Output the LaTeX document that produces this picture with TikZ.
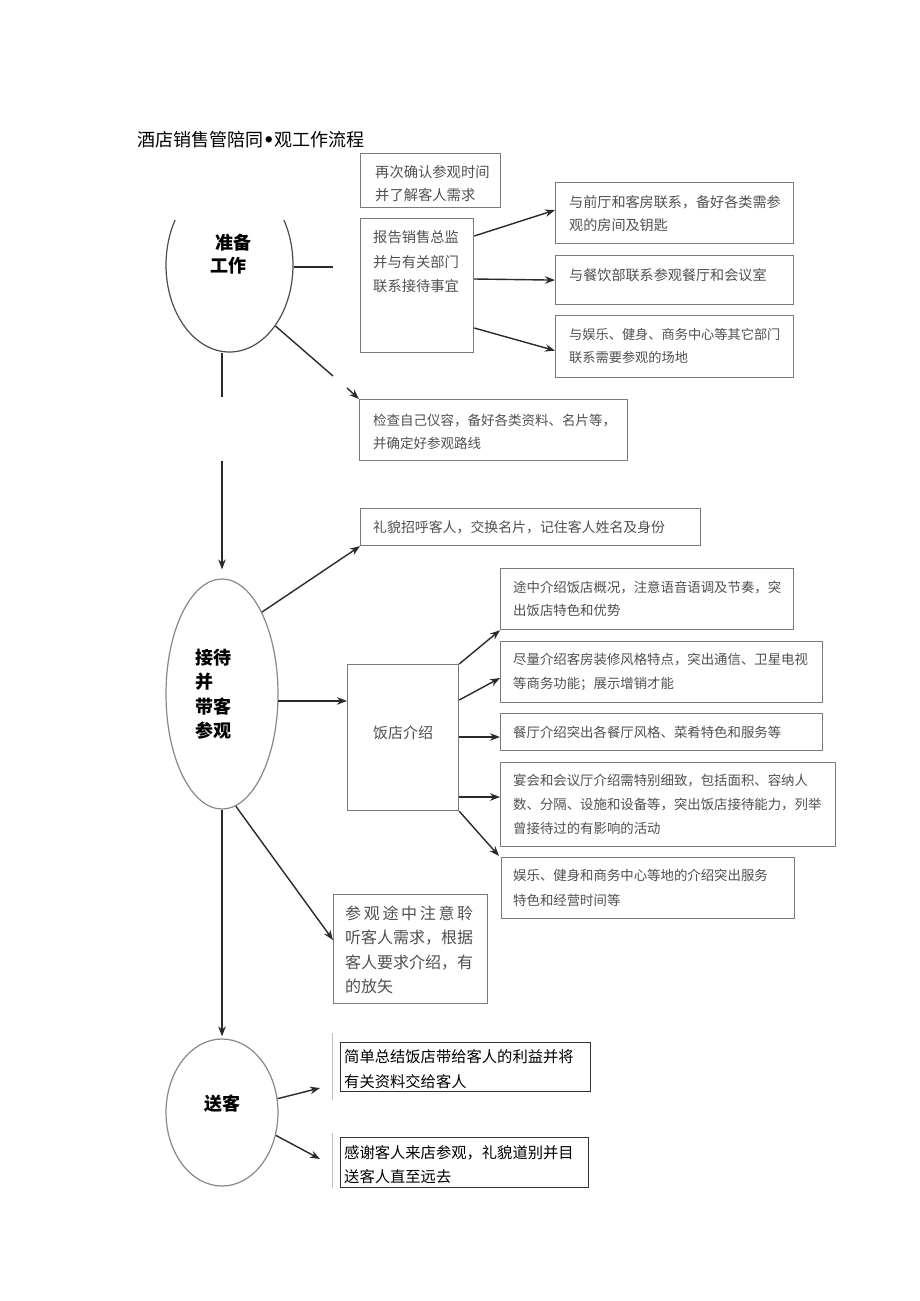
\documentclass[tikz,border=0pt]{standalone}
\usepackage{fontspec}
\setmainfont{Noto Sans CJK SC}
\newfontfamily\bulletfont{DejaVu Sans}
\usetikzlibrary{arrows.meta,calc,shapes.geometric}
\definecolor{boxgray}{HTML}{7A7A7A}
\definecolor{txtgray}{HTML}{505050}
\definecolor{linedark}{HTML}{2A2A2A}
\definecolor{ellgray}{HTML}{888888}
\tikzset{
  box/.style={draw=boxgray, line width=1.2pt, inner sep=0pt, anchor=north west},
  darkbox/.style={draw=black!80, line width=1.2pt, inner sep=0pt, anchor=north west},
  txt/.style={inner sep=0pt, anchor=north west, align=left, text=txtgray},
  blacktxt/.style={inner sep=0pt, anchor=north west, align=left, text=black},
  ell/.style={ellipse, draw=ellgray, line width=1.2pt, inner sep=0pt},
  conn/.style={draw=linedark, line width=1.4pt},
  arr/.style={conn, -{Stealth[length=10pt,width=7.5pt]}},
  lbl/.style={inner sep=0pt, anchor=north west, align=left, font=\bfseries\fontsize{18}{24.5}\selectfont}
}
\begin{document}
\begin{tikzpicture}[x=1pt,y=-1pt]
\useasboundingbox[fill=white] (0,0) rectangle (920,1301);

% title
\node[blacktxt, font=\fontsize{18}{22}\selectfont] (title) at (137,131.5) {酒店销售管陪同{\bulletfont\bfseries •}观工作流程};

% ellipses
\begin{scope}
\clip (100,220) rectangle (400,1301);
\node[ell, draw=black!70, minimum width=127pt, minimum height=174pt] (e1) at (229.5,265) {};
\end{scope}
\node[ell, minimum width=112pt, minimum height=230pt] (e2) at (222,694) {};
\node[ell, minimum width=112pt, minimum height=147pt] (e3) at (222,1112.5) {};

\node[lbl] (e1t) at (210,233.5) {\hspace*{5pt}准备\\[-1.5pt]工作};
\node[lbl] (e2t) at (195,648.5) {接待\\并\\带客\\参观};
\node[inner sep=0pt, font=\bfseries\fontsize{18}{22}\selectfont] (e3t) at (222,1104) {送客};

% boxes
\node[box, minimum width=140pt, minimum height=54pt] (B1) at (360,153) {};
\node[box, minimum width=113pt, minimum height=134pt] (B2) at (360,218) {};
\node[box, minimum width=238pt, minimum height=61pt] (BA) at (555,182) {};
\node[box, minimum width=238pt, minimum height=49pt] (BB) at (555,255) {};
\node[box, minimum width=238pt, minimum height=62pt] (BC) at (555,315) {};
\node[box, minimum width=268pt, minimum height=61pt] (BD) at (359,399) {};
\node[box, minimum width=340pt, minimum height=37pt] (BE) at (360,508) {};
\node[box, minimum width=111pt, minimum height=146pt] (BF) at (347,664) {};
\node[box, minimum width=293pt, minimum height=61pt] (G1) at (500,568) {};
\node[box, minimum width=322pt, minimum height=61pt] (G2) at (500,641) {};
\node[box, minimum width=322pt, minimum height=37pt] (G3) at (500,713) {};
\node[box, minimum width=335pt, minimum height=84pt] (G4) at (500,762) {};
\node[box, minimum width=293pt, minimum height=61pt] (G5) at (501,857) {};
\node[box, minimum width=154pt, minimum height=109pt] (H) at (333,894) {};
\node[darkbox, minimum width=250pt, minimum height=49pt] (I) at (340,1042) {};
\node[darkbox, minimum width=248pt, minimum height=50pt] (J) at (340,1137) {};

% texts
\node[txt, font=\fontsize{14.3}{23}\selectfont] (t1) at (375,165.3) {再次确认参观时间\\并了解客人需求};
\node[txt, font=\fontsize{14.3}{24.5}\selectfont] (t2) at (373,230.3) {报告销售总监\\并与有关部门\\联系接待事宜};
\node[txt, font=\fontsize{14.1}{23}\selectfont] (tA) at (569,195.3) {与前厅和客房联系，备好各类需参\\观的房间及钥匙};
\node[txt, font=\fontsize{14.1}{23}\selectfont] (tB) at (569,268.3) {与餐饮部联系参观餐厅和会议室};
\node[txt, font=\fontsize{13.2}{23}\selectfont] (tC) at (569,328.5) {与娱乐、健身、商务中心等其它部门\\联系需要参观的场地};
\node[txt, font=\fontsize{13.5}{23}\selectfont] (tD) at (373,413.5) {检查自己仪容，备好各类资料、名片等，\\并确定好参观路线};
\node[txt, font=\fontsize{13.9}{23}\selectfont] (tE) at (373,520.3) {礼貌招呼客人，交换名片，记住客人姓名及身份};
\node[inner sep=0pt, text=txtgray, font=\fontsize{15}{20}\selectfont] (tF) at (403,733) {饭店介绍};
\node[txt, font=\fontsize{13.4}{23.5}\selectfont] (tG1) at (513,580.5) {途中介绍饭店概况，注意语音语调及节奏，突\\出饭店特色和优势};
\node[txt, font=\fontsize{13.4}{24}\selectfont] (tG2) at (513,652.5) {尽量介绍客房装修风格特点，突出通信、卫星电视\\等商务功能；展示增销才能};
\node[txt, font=\fontsize{13.4}{24}\selectfont] (tG3) at (513,725.5) {餐厅介绍突出各餐厅风格、菜肴特色和服务等};
\node[txt, font=\fontsize{13.4}{24}\selectfont] (tG4) at (513,773.5) {宴会和会议厅介绍需特别细致，包括面积、容纳人\\数、分隔、设施和设备等，突出饭店接待能力，列举\\曾接待过的有影响的活动};
\node[txt, font=\fontsize{13.4}{25}\selectfont] (tG5) at (513,868.5) {娱乐、健身和商务中心等地的介绍突出服务\\特色和经营时间等};
\node[txt, font=\fontsize{16}{24.5}\selectfont] (tH) at (345,905.3) {\makebox[128pt][l]{参\hfill 观\hfill 途\hfill 中\hfill 注\hfill 意\hfill 聆}\\听客人需求，根据\\客人要求介绍，有\\的放矢};
\node[blacktxt, font=\fontsize{15.3}{25}\selectfont] (tI) at (344,1049.6) {简单总结饭店带给客人的利益并将\\有关资料交给客人};
\node[blacktxt, font=\fontsize{15.3}{23.5}\selectfont] (tJ) at (344,1145.6) {感谢客人来店参观，礼貌道别并目\\送客人直至远去};

% free ends of connectors
\coordinate (h1) at (333,267);
\coordinate (d1) at (333,376);
\coordinate (d2) at (347,388);
\coordinate (v1) at (222,397);
\coordinate (v2) at (222,461);
\coordinate (c1) at (320,1088);
\coordinate (c2) at (320,1159);

% connectors: preparation
\draw[conn] (h1 -| e1.east) -- (h1);
\draw[conn] (e1.-53) -- (d1);
\draw[arr] (d2) -- (BD.north west);
\draw[conn] (e1.south -| v1) -- (v1);
\draw[arr, shorten >=9pt] (v2) -- (e2.north);
\draw[arr] ($(B2.north east)+(0,18)$) -- ($(BA.west)+(0,-3)$);
\draw[arr] ($(B2.north east)+(0,61)$) -- (BB.west);
\draw[arr] ($(B2.north east)+(0,110)$) -- ($(BC.west)+(0,4)$);

% reception
\draw[arr] (e2.64) -- (BE.south west);
\draw[arr] (e2.-7) -- (e2.-7 -| BF.west);
\draw[arr] (BF.north east) -- (G1.south west);
\draw[arr] ($(BF.north east)+(0,36)$) -- ($(G2.north west)+(0,37)$);
\draw[arr] ($(BF.north east)+(0,73)$) -- ($(G3.north west)+(0,24)$);
\draw[arr] ($(BF.north east)+(0,133)$) -- ($(G4.north west)+(0,35)$);
\draw[arr] (BF.south east) -- ($(G5.north west)+(-2,-1)$);
\draw[arr] (e2.-83) -- ($(H.north west)+(0,46)$);
\draw[arr, shorten >=2pt] (e2.south) -- (e3.north);

% farewell
\draw[arr] (e3.14) -- (c1);
\draw[arr] (e3.-23) -- (c2);
\draw[black!25, line width=0.8pt] (332,1033) -- (332,1100);
\draw[black!25, line width=0.8pt] (332,1133) -- (332,1188);
\end{tikzpicture}
\end{document}
